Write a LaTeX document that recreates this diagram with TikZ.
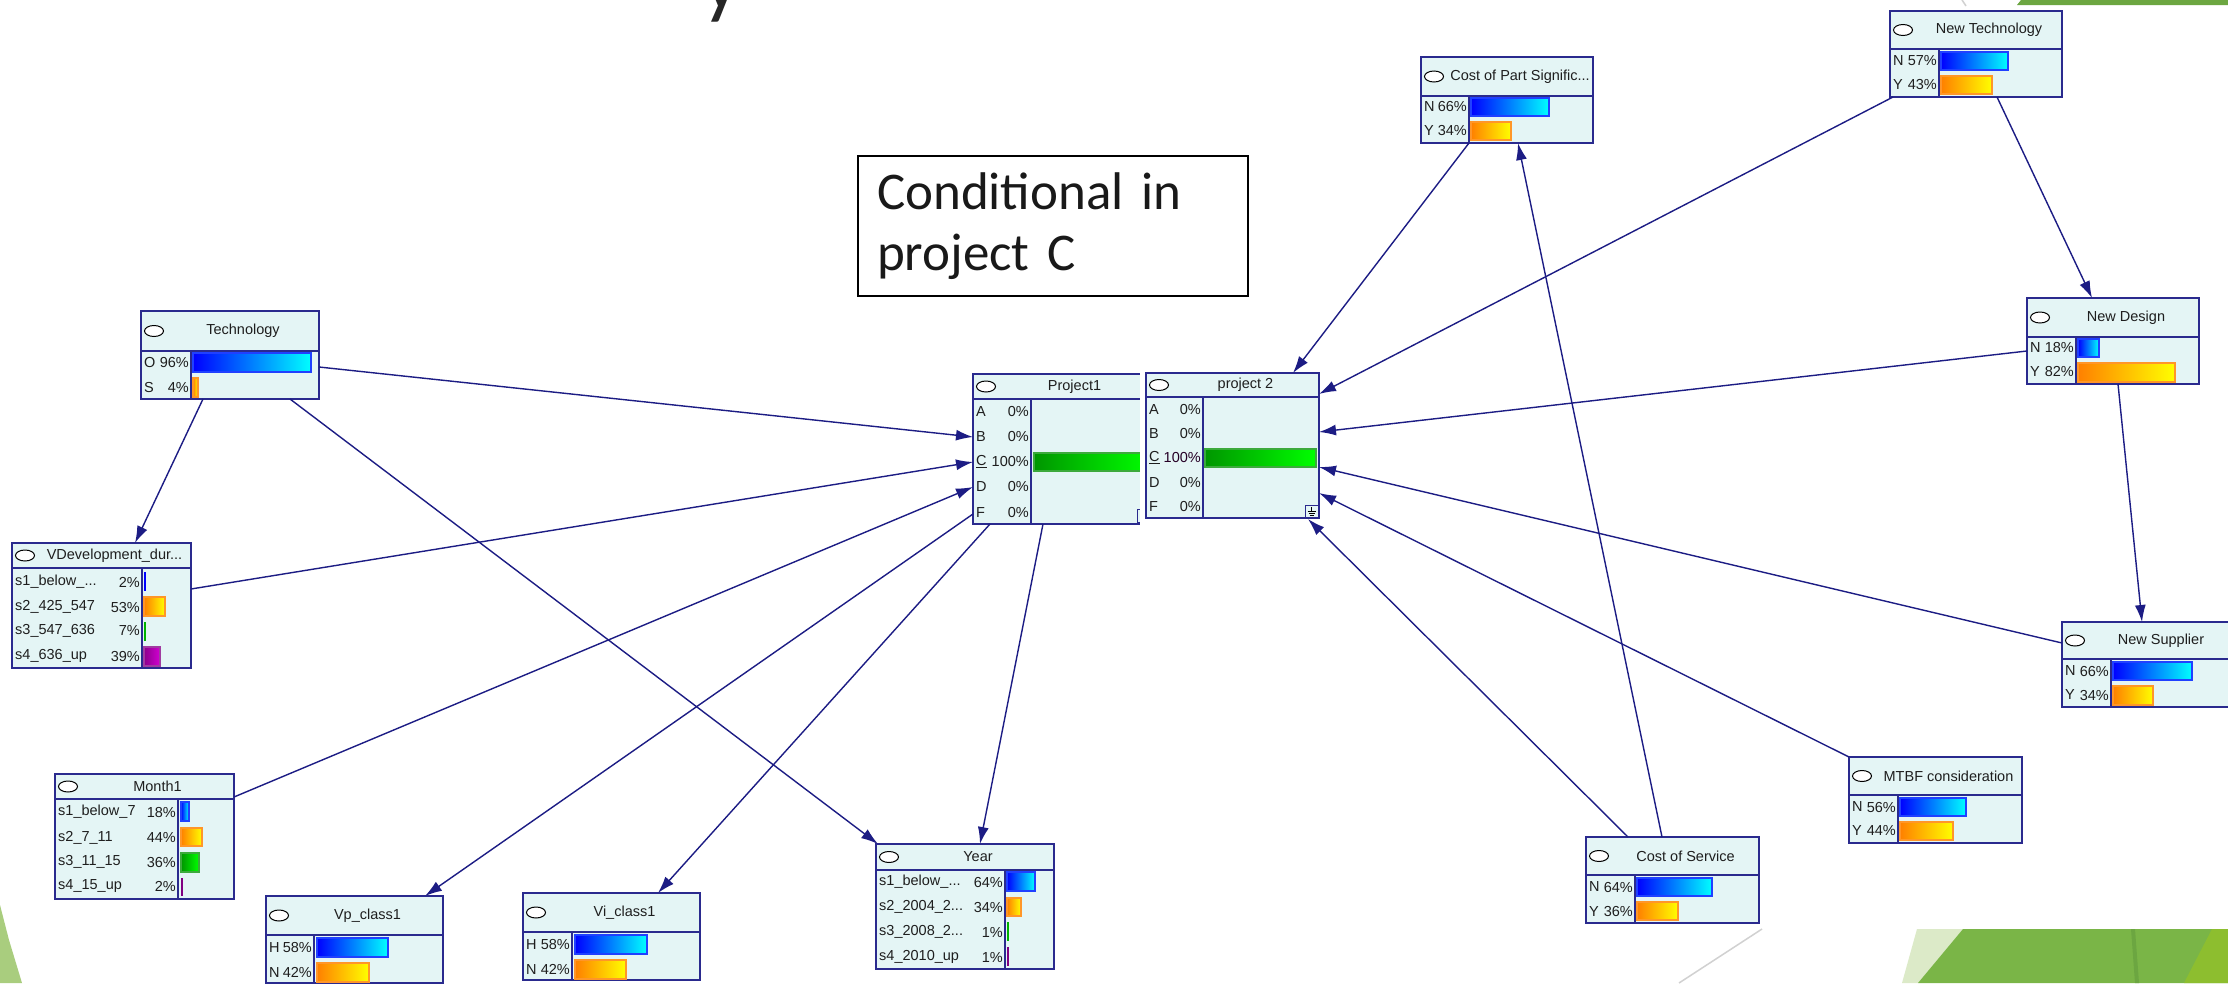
\documentclass[tikz,border=0pt]{standalone}
\usepackage{fontspec}
\setmainfont{Liberation Sans}
\newfontfamily\boxfont{Carlito}
\usetikzlibrary{arrows.meta,calc}

\definecolor{bnfill}{HTML}{E4F5F5}
\definecolor{bnborder}{HTML}{2A2A8E}
\definecolor{bnedgec}{HTML}{1C1C84}
\definecolor{bntext}{HTML}{1E1E1E}
\definecolor{slidegreen}{HTML}{7AB547}
\definecolor{slidegreendark}{HTML}{6CA641}
\definecolor{slidegreenlight}{HTML}{DCEAC8}
\definecolor{slidelime}{HTML}{8DBE2F}
\definecolor{slideleaf}{HTML}{A9CD7E}

\tikzset{
  bnbox/.style={draw=bnborder, fill=bnfill, line width=2pt, rectangle, inner sep=0pt, outer sep=0pt},
  bnline/.style={draw=bnborder, line width=1.6pt},
  bntxt/.style={inner sep=0pt, font=\fontsize{14.5}{17}\selectfont, text=bntext},
  bnedge/.style={draw=bnedgec, line width=1.4pt, -{Latex[length=17pt,width=11pt]}},
  bluebar/.style={left color=blue, right color=cyan, draw={rgb,255:red,32;green,64;blue,255}, line width=1.2pt},
  orangebar/.style={left color={rgb,255:red,255;green,128;blue,0}, right color=yellow, draw={rgb,255:red,255;green,150;blue,40}, line width=1.2pt},
  greenbar/.style={left color={rgb,255:red,0;green,150;blue,0}, right color={rgb,255:red,0;green,255;blue,0}, draw={rgb,255:red,60;green,170;blue,60}, line width=1.2pt},
  purplebar/.style={left color={rgb,255:red,140;green,0;blue,140}, right color={rgb,255:red,210;green,0;blue,210}, draw={rgb,255:red,160;green,60;blue,160}, line width=1.2pt},
}

% frame of a belief node: name, x1, y1, x2, y2, header line, column line, title
\newcommand\bnframe[8]{%
  \node[bnbox, minimum width={(#4-#2)*1pt}, minimum height={(#5-#3)*1pt}] (#1) at ({(#2+#4)/2},{(#3+#5)/2}) {};
  \draw[bnline] (#2,#6) -- (#4,#6);
  \draw[bnline] (#7,#6) -- (#7,#5);
  \draw[black, fill=white, line width=1pt] ({#2+13},{(#3+#6)/2}) ellipse [x radius=9.5pt, y radius=5.5pt];
  \node[bntxt] at ({(#2+26+#4)/2},{(#3+#6)/2}) {#8};
}
% one state row: left edge, column line, y, label, percentage
\newcommand\bnrow[5]{%
  \node[bntxt, anchor=west] at ({#1+3},#3) {#4};
  \node[bntxt, anchor=east] at ({#2-2},#3) {#5};
}
% a belief bar
\newcommand\bnbar[5]{\shadedraw[#1] (#2,#4) rectangle (#3,#5);}
% a very short bar drawn as a stroke
\newcommand\bntick[4]{\draw[#1, line width=2pt] (#2,#3) -- (#2,#4);}

\begin{document}
\begin{tikzpicture}[x=1pt, y=-1pt]
\useasboundingbox (0,0) rectangle (2228,983);
\clip (0,0) rectangle (2228,983);
\fill[white] (0,0) rectangle (2228,983);

% slide decoration
\node[anchor=base, inner sep=0pt, text=black!85] (ttl) at (722,8) {\boxfont\fontsize{85}{85}\selectfont y};
\fill[slidegreendark] (2017,5) -- (2021,0) -- (2228,0) -- (2228,5) -- cycle;
\draw[black!18, line width=1.5pt] (1962,0) -- (1966,6);
\draw[black!18, line width=1.5pt] (1762,929) -- (1679,983);
\fill[slidegreenlight] (1902,983) -- (1917,929) -- (1963,929) -- (1918,983) -- cycle;
\fill[slidegreen] (1918,983) -- (1963,929) -- (2228,929) -- (2228,983) -- cycle;
\fill[slidegreendark] (2131,929) -- (2135,929) -- (2139,983) -- (2135,983) -- cycle;
\fill[slidelime] (2184,983) -- (2212,929) -- (2228,929) -- (2228,983) -- cycle;
\fill[slideleaf] (0,905) -- (9,940) -- (22,983) -- (0,983) -- cycle;

% label box
\node[draw=black, line width=2.2pt, minimum width=390pt, minimum height=140pt, text width=352pt,
      align=left, inner xsep=19pt, font=\boxfont\fontsize{53}{61}\selectfont, text=black!90]
      (cond) at (1053,226) {Conditional in\\project C};

% Technology
\bnframe{tech}{141}{311}{319}{399}{351}{191}{Technology}
\bnrow{141}{191}{363}{O}{96\%}
\bnrow{141}{191}{388}{S}{4\%}
\bnbar{bluebar}{193}{311}{353}{372}
\bnbar{orangebar}{193}{198}{378}{397}

% VDevelopment
\bnframe{vdev}{12}{543}{191}{668}{568}{142}{VDevelopment\_dur...}
\bnrow{12}{142}{582}{s1\_below\_...}{2\%}
\bnrow{12}{142}{607}{s2\_425\_547}{53\%}
\bnrow{12}{142}{631}{s3\_547\_636}{7\%}
\bnrow{12}{142}{656}{s4\_636\_up}{39\%}
\bntick{blue}{145}{572}{591}
\bnbar{orangebar}{144}{165}{597}{616}
\bntick{green!70!black}{145}{622}{641}
\bnbar{purplebar}{144}{160}{647}{666}

% Month1
\bnframe{month}{55}{774}{234}{899}{799}{178}{Month1}
\bnrow{55}{178}{812}{s1\_below\_7}{18\%}
\bnrow{55}{178}{838}{s2\_7\_11}{44\%}
\bnrow{55}{178}{862}{s3\_11\_15}{36\%}
\bnrow{55}{178}{886}{s4\_15\_up}{2\%}
\bnbar{bluebar}{181}{189}{802}{821}
\bnbar{orangebar}{181}{202}{828}{846}
\bnbar{greenbar}{181}{199}{853}{872}
\bntick{violet}{182}{878}{896}

% Project1
\bnframe{proj1}{973}{374}{1150}{524}{399}{1031}{Project1}
\bnrow{973}{1031}{412}{A}{0\%}
\bnrow{973}{1031}{437}{B}{0\%}
\bnrow{973}{1031}{462}{\underline{C}}{100\%}
\bnrow{973}{1031}{487}{D}{0\%}
\bnrow{973}{1031}{513}{F}{0\%}
\bnbar{greenbar}{1034}{1150}{453}{471}
\draw[bnborder, line width=1pt] (1137,509) rectangle (1149,522);
\fill[white] (1140,365) rectangle (1328,528);

% project 2
\bnframe{proj2}{1146}{373}{1319}{518}{397}{1203}{project 2}
\bnrow{1146}{1203}{410}{A}{0\%}
\bnrow{1146}{1203}{434}{B}{0\%}
\bnrow{1146}{1203}{458}{\underline{C}}{\textcolor{black!70!violet}{100\%}}
\bnrow{1146}{1203}{483}{D}{0\%}
\bnrow{1146}{1203}{507}{F}{0\%}
\bnbar{greenbar}{1205}{1316}{449}{467}
\draw[bnborder, line width=1pt] (1305,505) rectangle (1318,517);
\draw[black, line width=0.8pt] (1311.5,507) -- (1311.5,511) (1307.5,511) -- (1315.5,511)
      (1308.5,513) -- (1314.5,513) (1309.5,515) -- (1313.5,515);

% Year
\bnframe{year}{876}{844}{1054}{969}{870}{1005}{Year}
\bnrow{876}{1005}{882}{s1\_below\_...}{64\%}
\bnrow{876}{1005}{907}{s2\_2004\_2...}{34\%}
\bnrow{876}{1005}{932}{s3\_2008\_2...}{1\%}
\bnrow{876}{1005}{957}{s4\_2010\_up}{1\%}
\bnbar{bluebar}{1007}{1035}{872}{891}
\bnbar{orangebar}{1007}{1021}{898}{916}
\bntick{green!70!black}{1008}{922}{941}
\bntick{violet}{1008}{947}{966}

% Vp_class1
\bnframe{vp}{266}{896}{443}{983}{935}{314}{Vp\_class1}
\bnrow{266}{314}{947}{H}{58\%}
\bnrow{266}{314}{972}{N}{42\%}
\bnbar{bluebar}{317}{388}{938}{957}
\bnbar{orangebar}{317}{369}{963}{982}

% Vi_class1
\bnframe{vi}{523}{893}{700}{980}{932}{572}{Vi\_class1}
\bnrow{523}{572}{944}{H}{58\%}
\bnrow{523}{572}{969}{N}{42\%}
\bnbar{bluebar}{575}{647}{935}{954}
\bnbar{orangebar}{575}{626}{960}{979}

% Cost of Part Significance
\bnframe{cpart}{1421}{57}{1593}{143}{96}{1469}{Cost of Part Signific...}
\bnrow{1421}{1469}{107}{N}{66\%}
\bnrow{1421}{1469}{131}{Y}{34\%}
\bnbar{bluebar}{1471}{1549}{98}{116}
\bnbar{orangebar}{1471}{1511}{122}{140}

% New Technology
\bnframe{newtech}{1890}{11}{2062}{97}{49}{1939}{New Technology}
\bnrow{1890}{1939}{61}{N}{57\%}
\bnrow{1890}{1939}{85}{Y}{43\%}
\bnbar{bluebar}{1941}{2008}{52}{70}
\bnbar{orangebar}{1941}{1992}{76}{94}

% New Design
\bnframe{newdesign}{2027}{298}{2199}{384}{337}{2076}{New Design}
\bnrow{2027}{2076}{348}{N}{18\%}
\bnrow{2027}{2076}{372}{Y}{82\%}
\bnbar{bluebar}{2078}{2099}{339}{357}
\bnbar{orangebar}{2078}{2175}{363}{382}

% New Supplier
\bnframe{newsupp}{2062}{622}{2234}{707}{659}{2111}{New Supplier}
\bnrow{2062}{2111}{671}{N}{66\%}
\bnrow{2062}{2111}{695}{Y}{34\%}
\bnbar{bluebar}{2113}{2192}{662}{680}
\bnbar{orangebar}{2113}{2153}{686}{705}

% Cost of Service
\bnframe{cserv}{1586}{837}{1759}{923}{875}{1635}{Cost of Service}
\bnrow{1586}{1635}{887}{N}{64\%}
\bnrow{1586}{1635}{911}{Y}{36\%}
\bnbar{bluebar}{1637}{1712}{878}{896}
\bnbar{orangebar}{1637}{1678}{902}{920}

% MTBF consideration
\bnframe{mtbf}{1849}{757}{2022}{843}{795}{1898}{MTBF consideration}
\bnrow{1849}{1898}{807}{N}{56\%}
\bnrow{1849}{1898}{831}{Y}{44\%}
\bnbar{bluebar}{1900}{1966}{798}{816}
\bnbar{orangebar}{1900}{1953}{822}{840}

% links
\draw[bnedge] ($(tech.north east)+(0,56)$) -- ($(proj1.north west)+(0,63)$);
\draw[bnedge] ($(tech.south west)+(62,0)$) -- ($(vdev.north west)+(123,0)$);
\draw[bnedge] ($(tech.south west)+(149,0)$) -- ($(year.north west)+(2,0)$);
\draw[bnedge] ($(vdev.north east)+(0,46)$) -- ($(proj1.north west)+(0,88)$);
\draw[bnedge] ($(month.north east)+(0,23)$) -- ($(proj1.north west)+(0,113)$);
\draw[bnedge] ($(proj1.north west)+(0,140)$) -- ($(vp.north west)+(159,0)$);
\draw[bnedge] ($(proj1.south west)+(17,0)$) -- ($(vi.north west)+(135,0)$);
\draw[bnedge] ($(proj1.south west)+(70,0)$) -- ($(year.north west)+(104,0)$);
\draw[bnedge] ($(cpart.south west)+(48,0)$) -- ($(proj2.north west)+(147,0)$);
\draw[bnedge] ($(cserv.north west)+(76,0)$) -- ($(cpart.south west)+(97,0)$);
\draw[bnedge] ($(cserv.north west)+(42,0)$) -- ($(proj2.south east)+(-11,1)$);
\draw[bnedge] ($(newtech.south west)+(3,0)$) -- ($(proj2.north east)+(0,21)$);
\draw[bnedge] ($(newtech.south west)+(107,0)$) -- ($(newdesign.north west)+(65,0)$);
\draw[bnedge] ($(newdesign.north west)+(0,53)$) -- ($(proj2.north east)+(0,59)$);
\draw[bnedge] ($(newdesign.south west)+(91,0)$) -- ($(newsupp.north west)+(80,0)$);
\draw[bnedge] ($(newsupp.north west)+(0,21)$) -- ($(proj2.north east)+(0,94)$);
\draw[bnedge] (mtbf.north west) -- ($(proj2.north east)+(0,120)$);
\end{tikzpicture}
\end{document}
